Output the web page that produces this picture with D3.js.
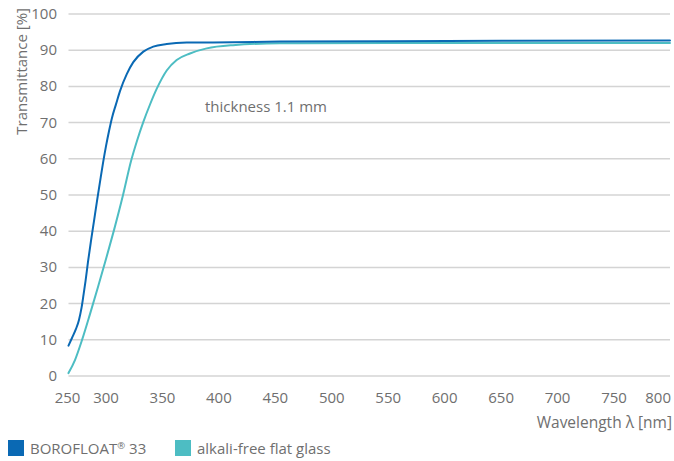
<!DOCTYPE html>
<html>
<head>
<meta charset="utf-8">
<script src="https://cdn.jsdelivr.net/npm/d3@7/dist/d3.min.js"></script>
<style>
  html, body { margin: 0; padding: 0; background: #fff; }
  svg text { font-family: "Open Sans", "Noto Sans", sans-serif; fill: #6f6f6f; }
</style>
</head>
<body>
<svg id="chart" width="674" height="461"></svg>
<script>
// Transmittance spectra, 1.1 mm glass thickness: [wavelength nm, transmittance %]
const borofloat = [
  [250, 8.4], [254.5, 10.5], [259.7, 13.0], [263.6, 15.5], [266.9, 18.8],
  [269.5, 22.4], [272.1, 26.2], [275.3, 31.5], [279.2, 37.3], [283.1, 42.8],
  [287, 48.3], [290.9, 53.6], [294.8, 58.8], [298.7, 63.5], [301.8, 67.7],
  [304.4, 71.3], [308, 75.1], [311.5, 78.7], [317.5, 83.4], [323.3, 86.7],
  [332.2, 89.6], [341, 91.0], [352.9, 91.7], [370.6, 92.1], [411.6, 92.2],
  [453.2, 92.4], [550, 92.5], [650, 92.6], [800, 92.7]
];
const alkaliFree = [
  [250, 0.8], [258.4, 4.4], [267.5, 9.9], [277.9, 17.1], [288.3, 24.6],
  [298.7, 32.3], [306.2, 40.3], [314.2, 50.0], [321.3, 59.4], [326.6, 65.0],
  [332.2, 70.2], [338.1, 75.0], [344, 79.3], [352.9, 84.4], [361.7, 87.3],
  [373.5, 89.1], [388.3, 90.5], [411.6, 91.4], [453.2, 91.9], [550, 92.0],
  [650, 92.0], [800, 92.0]
];

const xTicks = [250, 300, 350, 400, 450, 500, 550, 600, 650, 700, 750, 800];
const yTicks = [0, 10, 20, 30, 40, 50, 60, 70, 80, 90, 100];

const seriesNames = ["BOROFLOAT", "alkali-free flat glass"];
const seriesColors = ["#0a69b4", "#4dbdc3"];

const svg = d3.select("#chart");

// The wavelength axis is compressed in the UV end and at the far right edge
const x = d3.scaleLinear()
  .domain([250, 300, 750, 800])
  .range([68.5, 107, 615, 670]);
const y = d3.scaleLinear().domain([0, 100]).range([376, 14]);

// Horizontal grid
svg.append("g")
  .selectAll("line")
  .data(yTicks)
  .join("line")
  .attr("x1", x(250))
  .attr("x2", x(800))
  .attr("y1", d => y(d))
  .attr("y2", d => y(d))
  .attr("stroke", "#d4d4d4")
  .attr("stroke-width", 1.5);

// Y tick labels
svg.append("g")
  .selectAll("text")
  .data(yTicks)
  .join("text")
  .attr("x", 57)
  .attr("y", d => y(d) + 5)
  .attr("text-anchor", "end")
  .attr("font-size", 15)
  .text(d => d);

// X tick labels
svg.append("g")
  .selectAll("text")
  .data(xTicks)
  .join("text")
  .attr("x", d => d === 800 ? x(d) + 1 : x(d) - 1)
  .attr("y", 403)
  .attr("text-anchor", d => d === 800 ? "end" : "middle")
  .attr("font-size", 15)
  .text(d => d);

// Axis titles
svg.append("text")
  .attr("transform", "translate(27,8) rotate(-90)")
  .attr("text-anchor", "end")
  .attr("font-size", 15)
  .text("Transmittance [%]");

svg.append("text")
  .attr("x", 672)
  .attr("y", 428)
  .attr("text-anchor", "end")
  .attr("font-size", 15.5)
  .text("Wavelength \u03bb [nm]");

// Annotation
svg.append("text")
  .attr("x", 205)
  .attr("y", 112)
  .attr("font-size", 15)
  .text("thickness 1.1 mm");

// Curves
const line = d3.line()
  .x(d => x(d[0]))
  .y(d => y(d[1]))
  .curve(d3.curveMonotoneX);

[alkaliFree, borofloat].forEach((s, i) => {
  svg.append("path")
    .datum(s)
    .attr("fill", "none")
    .attr("stroke", seriesColors[1 - i])
    .attr("stroke-width", 2)
    .attr("stroke-linejoin", "round")
    .attr("stroke-linecap", "round")
    .attr("d", line);
});

// Legend
const legend = svg.append("g");
const legendX = [8, 175];
seriesNames.forEach((name, i) => {
  legend.append("rect")
    .attr("x", legendX[i])
    .attr("y", 440)
    .attr("width", 16)
    .attr("height", 16)
    .attr("fill", seriesColors[i]);
  const t = legend.append("text")
    .attr("x", legendX[i] + 22)
    .attr("y", 454)
    .attr("font-size", 15);
  if (i === 0) {
    t.append("tspan").text(name);
    t.append("tspan").attr("font-size", 9.5).attr("dy", -5).text("\u00ae");
    t.append("tspan").attr("dy", 5).text(" 33");
  } else {
    t.text(name);
  }
});
</script>
</body>
</html>
